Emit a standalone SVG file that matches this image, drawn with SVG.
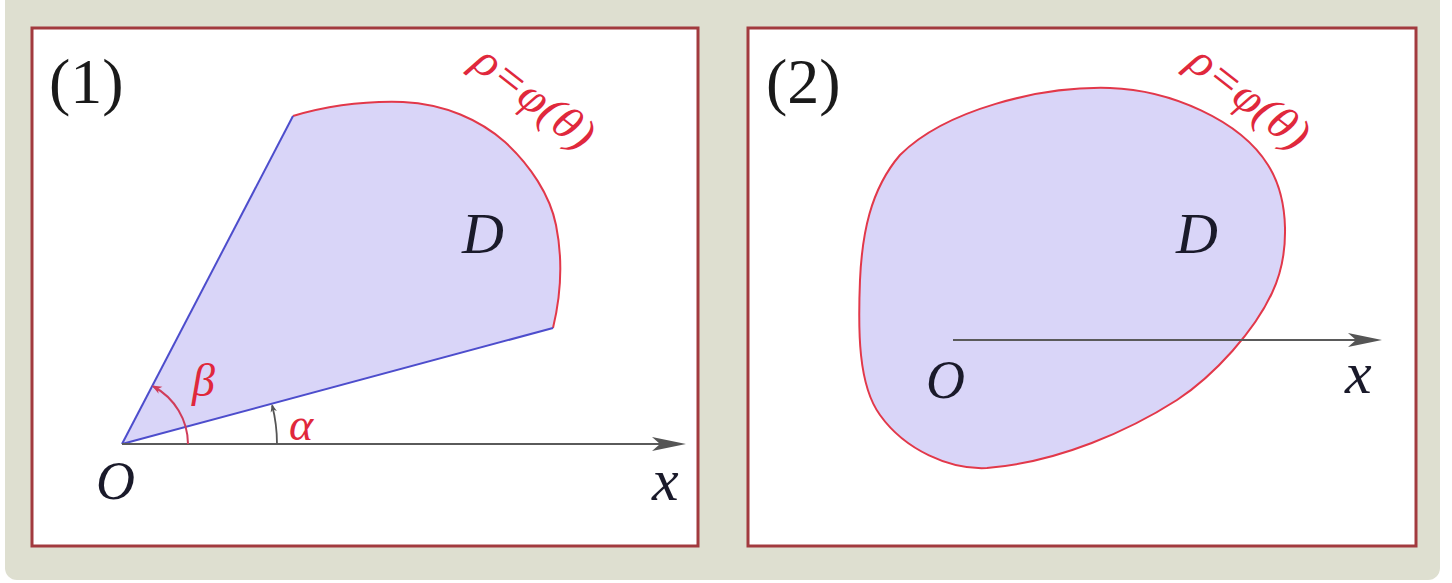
<svg xmlns="http://www.w3.org/2000/svg" width="1452" height="583" viewBox="0 0 1452 583">
<style>
.panel{fill:#ffffff;stroke:#a23a3e;stroke-width:3}
.region{fill:#d9d5f8}
.edge{fill:none;stroke:#4d4dcc;stroke-width:2}
.curve{fill:none;stroke:#e2384a;stroke-width:2}
.axis{fill:none;stroke:#5a5a5a;stroke-width:2.2}
.lbl{font-family:"Liberation Serif",serif;font-style:italic;fill:#1a1a2a}
.num{font-family:"Liberation Serif",serif;fill:#1a1a1a;font-size:64px}
.red{font-family:"Liberation Serif","DejaVu Serif",serif;font-style:italic;fill:#e0283c}
</style>
<defs>
<marker id="arrR" viewBox="0 0 10 10" refX="8" refY="5" markerWidth="10" markerHeight="10" markerUnits="userSpaceOnUse" orient="auto">
<path d="M0,1 L10,5 L0,9 L3,5 Z" fill="#d03c5a"/>
</marker>
<marker id="arrG" viewBox="0 0 10 10" refX="8" refY="5" markerWidth="8" markerHeight="8" markerUnits="userSpaceOnUse" orient="auto">
<path d="M0,1 L10,5 L0,9 L3,5 Z" fill="#555"/>
</marker>
</defs>
<rect x="0" y="0" width="1452" height="583" fill="#ffffff"/>
<rect x="5" y="-12" width="1435" height="592" rx="12" fill="#dedfd0"/>

<g id="panel1">
<rect class="panel" x="32" y="28" width="666" height="518"/>
<path class="region" d="M122,444 L293,116 C330,105 370,101 403,102 C445,104 480,120 505,142 C530,165 550,195 556,225 C563,260 561,295 553,328 Z"/>
<path class="curve" d="M293,116 C330,105 370,101 403,102 C445,104 480,120 505,142 C530,165 550,195 556,225 C563,260 561,295 553,328"/>
<text class="num" x="49" y="103">(1)</text>
<text class="lbl" x="462" y="253" font-size="58">D</text>
<text class="lbl" x="96" y="499" font-size="54">O</text>
<text class="lbl" x="652" y="500" font-size="60">x</text>
<text class="red" x="192" y="396" font-size="46" fill="#d83c60">β</text>
<text class="red" x="289" y="440" font-size="46" fill="#d83c60">α</text>
<text class="red" x="470" y="66" font-size="46" transform="rotate(38 470 66)" textLength="140" lengthAdjust="spacingAndGlyphs">ρ=φ(θ)</text>
</g>

<g id="panel2">
<rect class="panel" x="748" y="28" width="668" height="518"/>
<path class="region" d="M1110,88 C1170,90 1240,120 1268,165 C1290,200 1290,255 1272,293 C1255,330 1215,375 1177,400 C1130,430 1060,462 987,468 C950,470 905,450 880,415 C858,385 858,330 860,280 C862,235 870,190 900,155 C945,110 1040,86 1110,88 Z"/>
<path class="curve" d="M1110,88 C1170,90 1240,120 1268,165 C1290,200 1290,255 1272,293 C1255,330 1215,375 1177,400 C1130,430 1060,462 987,468 C950,470 905,450 880,415 C858,385 858,330 860,280 C862,235 870,190 900,155 C945,110 1040,86 1110,88 Z"/>
<text class="num" x="766" y="103">(2)</text>
<text class="lbl" x="1176" y="253" font-size="58">D</text>
<text class="lbl" x="926" y="398" font-size="54">O</text>
<text class="lbl" x="1345" y="393" font-size="60">x</text>
<text class="red" x="1185" y="66" font-size="46" transform="rotate(38 1185 66)" textLength="140" lengthAdjust="spacingAndGlyphs">ρ=φ(θ)</text>
</g>

<g id="connectors">
<line class="edge" x1="122" y1="444" x2="293" y2="116"/>
<line class="edge" x1="122" y1="444" x2="553" y2="328"/>
<line class="axis" x1="122" y1="444" x2="672" y2="444"/>
<path d="M686,444 L652,437 L660,444 L652,451 Z" fill="#555"/>
<path d="M188,444 A66,66 0 0 0 153.5,386.5" fill="none" stroke="#d03c5a" stroke-width="2" marker-end="url(#arrR)"/>
<path d="M277,444 A155,155 0 0 0 272.2,405.5" fill="none" stroke="#555" stroke-width="1.8" marker-end="url(#arrG)"/>
<line class="axis" x1="953" y1="340" x2="1368" y2="340"/>
<path d="M1382,340 L1348,333 L1356,340 L1348,347 Z" fill="#555"/>
</g>
</svg>
